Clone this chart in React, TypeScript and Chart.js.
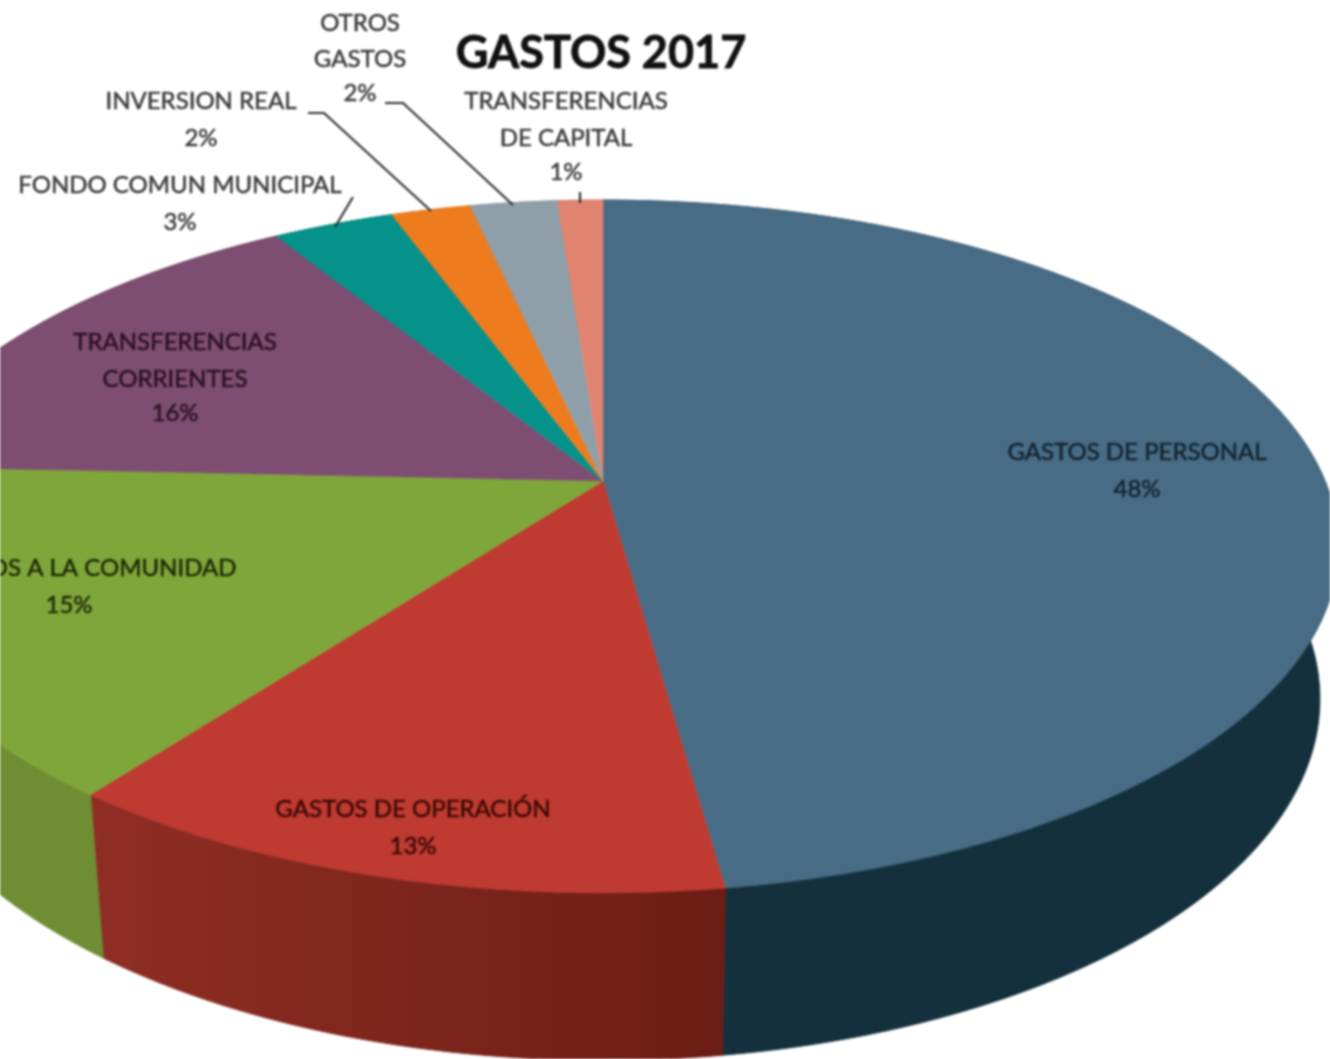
import React, { useEffect, useRef } from "react";
import { Chart, registerables } from "chart.js";

Chart.register(...registerables);

const categories = [
  "GASTOS DE PERSONAL",
  "GASTOS DE OPERACIÓN",
  "SERVICIOS A LA COMUNIDAD",
  "TRANSFERENCIAS CORRIENTES",
  "FONDO COMUN MUNICIPAL",
  "INVERSION REAL",
  "OTROS GASTOS",
  "TRANSFERENCIAS DE CAPITAL",
];
const values = [47.8, 12.5, 15.4, 15.5, 3.2, 2.1, 2.3, 1.2];
const topColors = ["#486c85", "#bf3a30", "#7fa63a", "#7d4e71", "#05928a", "#ee7c1f", "#8f9fa9", "#e08470"];
const sideStart = ["#14303c", "#8f2e24", "#6f8d33", "#5a3551", "#066058", "#a85612", "#667078", "#a05a4a"];
const sideEnd = ["#14303c", "#6c1d15", "#6f8d33", "#5a3551", "#066058", "#a85612", "#667078", "#a05a4a"];
const titleText = "GASTOS 2017";

// [text lines, centre x, y of each line, colour]
const labelBlocks: [string[], number, number[], string][] = [
  [["OTROS", "GASTOS", "2%"], 360, [23, 59, 93], "#3a3a3a"],
  [["INVERSION REAL", "2%"], 201, [101, 138], "#3a3a3a"],
  [["TRANSFERENCIAS", "DE CAPITAL", "1%"], 566, [101, 138, 172], "#3a3a3a"],
  [["FONDO COMUN MUNICIPAL", "3%"], 180, [185, 222], "#3a3a3a"],
  [["TRANSFERENCIAS", "CORRIENTES", "16%"], 175, [342, 379, 413], "#2a1024"],
  [["GASTOS DE PERSONAL", "48%"], 1137, [452, 489], "#13232f"],
  [["SERVICIOS A LA COMUNIDAD", "15%"], 69, [568, 605], "#1c2a08"],
  [["GASTOS DE OPERACIÓN", "13%"], 413, [809, 846], "#3a0a06"],
];
const leaderLines: number[][][] = [
  [[308, 113], [324, 113], [431, 211]],
  [[385, 103], [403, 103], [513, 205]],
  [[353, 197], [335, 227]],
  [[580, 192], [580, 203]],
];

const APEX_X = 603;
const APEX_Y = 481;
const RX = 722;
const RY = 334;
const PERSP = -0.189;

function project(theta: number) {
  const d = 1 + PERSP * Math.sin(theta);
  return [APEX_X + (RX * Math.cos(theta)) / d, APEX_Y + (RY * Math.sin(theta)) / d];
}
function lower(p: number[]) {
  return [APEX_X + (p[0] - APEX_X) * 0.975, p[1] * 1.043 + 129];
}
function rim(start: number, end: number) {
  const n = Math.max(4, Math.ceil((end - start) * 90));
  const pts: number[][] = [];
  for (let i = 0; i <= n; i++) pts.push(project(start + ((end - start) * i) / n));
  return pts;
}

const piePerspective = {
  id: "piePerspective",
  beforeDatasetDraw(chart: any) {
    const ctx = chart.ctx;
    const arcs = chart.getDatasetMeta(0).data;
    ctx.save();
    arcs.forEach((arc: any, i: number) => {
      const top = rim(arc.startAngle, arc.endAngle);
      const bottom = top.map(lower).reverse();
      const g = ctx.createLinearGradient(Math.min(...top.map((p) => p[0])), 0, Math.max(...top.map((p) => p[0])), 0);
      g.addColorStop(0, sideStart[i]);
      g.addColorStop(1, sideEnd[i]);
      ctx.fillStyle = g;
      ctx.strokeStyle = g;
      ctx.beginPath();
      [...top, ...bottom].forEach((p, j) => (j ? ctx.lineTo(p[0], p[1]) : ctx.moveTo(p[0], p[1])));
      ctx.closePath();
      ctx.fill();
      ctx.stroke();
    });
    arcs.forEach((arc: any, i: number) => {
      const top = rim(arc.startAngle, arc.endAngle);
      ctx.fillStyle = topColors[i];
      ctx.strokeStyle = topColors[i];
      ctx.lineWidth = 0.5;
      ctx.beginPath();
      ctx.moveTo(APEX_X, APEX_Y);
      top.forEach((p) => ctx.lineTo(p[0], p[1]));
      ctx.closePath();
      ctx.fill();
      ctx.stroke();
    });
    ctx.restore();
    return false;
  },
  afterDatasetsDraw(chart: any) {
    const ctx = chart.ctx;
    ctx.save();
    ctx.strokeStyle = "#303030";
    ctx.lineWidth = 2.2;
    leaderLines.forEach((line) => {
      ctx.beginPath();
      line.forEach((p, j) => (j ? ctx.lineTo(p[0], p[1]) : ctx.moveTo(p[0], p[1])));
      ctx.stroke();
    });
    ctx.textAlign = "center";
    ctx.textBaseline = "middle";
    ctx.font = "24px Lato";
    ctx.lineWidth = 0.5;
    labelBlocks.forEach(([lines, x, ys, color]) => {
      ctx.fillStyle = color;
      ctx.strokeStyle = color;
      lines.forEach((t, j) => {
        ctx.fillText(t, x, ys[j]);
        ctx.strokeText(t, x, ys[j]);
      });
    });
    ctx.fillStyle = "#111111";
    ctx.strokeStyle = "#111111";
    ctx.lineWidth = 0.8;
    ctx.font = "bold 45px Lato";
    ctx.fillText(titleText, 601, 53);
    ctx.strokeText(titleText, 601, 53);
    ctx.restore();
  },
};

export default function App() {
  const ref = useRef<HTMLCanvasElement>(null);
  useEffect(() => {
    document.body.style.margin = "0";
    document.body.style.background = "#ffffff";
    const chart = new Chart(ref.current as HTMLCanvasElement, {
      type: "pie",
      data: {
        labels: categories,
        datasets: [{ data: values, backgroundColor: topColors, borderWidth: 0 }],
      },
      options: {
        responsive: false,
        animation: false,
        devicePixelRatio: 1,
        plugins: { legend: { display: false }, tooltip: { enabled: false }, title: { display: false } },
      },
      plugins: [piePerspective],
    } as any);
    return () => chart.destroy();
  }, []);
  return (
    <canvas
      ref={ref}
      width={1330}
      height={1059}
      style={{ display: "block", width: 1330, height: 1059, filter: "blur(1px)" }}
    />
  );
}
